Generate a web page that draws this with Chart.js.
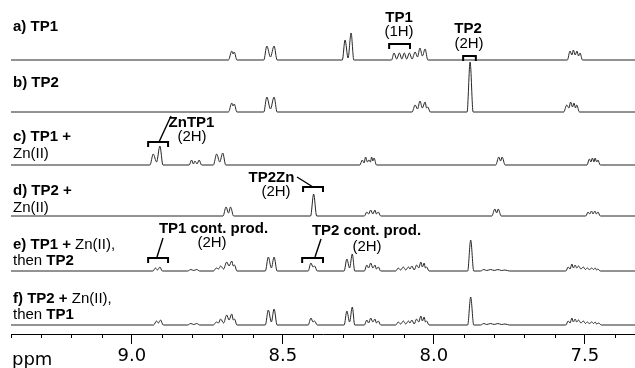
<!DOCTYPE html>
<html>
<head>
<meta charset="utf-8">
<script src="https://cdn.jsdelivr.net/npm/chart.js@4/dist/chart.umd.min.js"></script>
<style>
  html, body { margin: 0; padding: 0; background: #fff; }
  canvas { display: block; }
</style>
</head>
<body>
<canvas id="nmr" width="635" height="368"></canvas>
<script>
// 1H NMR traces, aromatic region. Each trace is a list of [shift (ppm), intensity] vertices.
const specTP1 = [
  [9.40,0],
  [8.680,0],[8.669,9],[8.665,6],[8.661,8],[8.652,0],
  [8.563,0],[8.553,14],[8.541,3],[8.529,14],[8.519,0],
  [8.303,0],[8.294,20],[8.284,2],[8.274,27],[8.265,0],
  [8.140,0],[8.132,7],[8.123,1],[8.114,7],[8.106,1],[8.098,7],[8.090,1],[8.081,7],[8.072,1],
  [8.062,8],[8.054,3],[8.046,12],[8.038,4],[8.029,11],[8.020,0],
  [7.558,0],[7.549,9],[7.543,5],[7.538,10],[7.532,5],[7.526,9],[7.521,4],[7.516,7],[7.508,0],
  [7.334,0]
];
const specTP2 = [
  [9.40,0],
  [8.680,0],[8.669,9],[8.665,6],[8.661,8],[8.652,0],
  [8.563,0],[8.553,15],[8.541,3],[8.529,15],[8.519,0],
  [8.072,0],[8.062,7],[8.054,3],[8.046,11],[8.038,4],[8.029,10],[8.024,4],[8.020,5],[8.012,0],
  [7.890,0],[7.880,50],[7.870,0],
  [7.570,0],[7.560,7],[7.553,4],[7.547,10],[7.541,5],[7.536,9],[7.531,4],[7.527,7],[7.518,0],
  [7.334,0]
];
const specTP1Zn = [
  [9.40,0],
  [8.940,0],[8.929,11],[8.918,3],[8.907,19],[8.897,0],
  [8.810,0],[8.802,5],[8.796,1],[8.791,4],[8.784,1],[8.777,5],[8.769,0],
  [8.730,0],[8.719,11],[8.709,3],[8.699,12],[8.689,0],
  [8.245,0],[8.237,5],[8.231,2],[8.226,8],[8.220,3],[8.215,5],[8.210,3],[8.206,8],[8.202,4],[8.198,7],[8.190,0],
  [7.795,0],[7.785,8],[7.779,4],[7.774,8],[7.764,0],
  [7.493,0],[7.485,6],[7.480,3],[7.475,7],[7.470,3],[7.466,7],[7.461,3],[7.457,5],[7.449,0],
  [7.334,0]
];
const specTP2Zn = [
  [9.40,0],
  [8.698,0],[8.688,9],[8.680,3],[8.673,9],[8.663,0],
  [8.408,0],[8.398,22],[8.388,0],
  [8.230,0],[8.222,4],[8.216,2],[8.209,6],[8.202,2],[8.195,6],[8.190,2],[8.184,4],[8.176,0],
  [7.808,0],[7.798,7],[7.792,3],[7.787,7],[7.777,0],
  [7.497,0],[7.489,4],[7.484,2],[7.478,5],[7.473,2],[7.467,5],[7.462,2],[7.457,4],[7.449,0],
  [7.334,0]
];
const specTP1ZnThenTP2 = [
  [9.40,0],
  [8.930,0],[8.922,3],[8.915,1],[8.907,4],[8.899,0],
  [8.815,0],[8.805,1.5],[8.795,0.5],[8.785,1.5],[8.775,0],
  [8.730,0],[8.720,3],[8.713,2],[8.706,5],[8.696,2],[8.686,9],[8.678,5],[8.669,10],[8.664,5],[8.660,6],[8.652,0],
  [8.558,0],[8.548,14],[8.538,3],[8.529,14],[8.519,0],
  [8.416,0],[8.407,8],[8.400,4],[8.395,5],[8.386,0],
  [8.297,0],[8.288,12],[8.279,3],[8.270,17],[8.262,0],
  [8.230,0],[8.222,6],[8.216,3],[8.209,8],[8.202,3],[8.195,6],[8.190,2],[8.184,4],[8.176,0],
  [8.126,0],[8.118,3],[8.110,1],[8.101,4],[8.093,1],[8.084,4],[8.079,2],[8.073,5],[8.065,1],
  [8.057,6],[8.050,3],[8.043,9],[8.038,4],[8.032,8],[8.028,3],[8.024,4],[8.016,0],
  [7.888,0],[7.878,31],[7.868,0],
  [7.845,0],[7.835,1.5],[7.825,0.5],[7.812,1.5],[7.800,0.5],[7.788,1.5],[7.776,0.5],[7.764,1],[7.750,0],
  [7.563,0],[7.555,4],[7.549,2],[7.543,7],[7.538,3],[7.532,6],[7.527,3],[7.521,5],[7.513,2],[7.505,4],
  [7.498,1.5],[7.492,3],[7.485,1.5],[7.477,3],[7.471,1.5],[7.466,3],[7.461,1],[7.457,2],[7.449,0],
  [7.334,0]
];
const specTP2ZnThenTP1 = [
  [9.40,0],
  [8.928,0],[8.918,4],[8.912,2],[8.905,5],[8.896,0],
  [8.815,0],[8.805,1.5],[8.795,0.5],[8.785,1.5],[8.775,0],
  [8.730,0],[8.720,3],[8.713,2],[8.706,6],[8.696,2],[8.686,10],[8.678,5],[8.669,11],[8.664,5],[8.660,6],[8.652,0],
  [8.558,0],[8.548,15],[8.538,3],[8.529,16],[8.519,0],
  [8.416,0],[8.407,7],[8.400,3],[8.395,4],[8.386,0],
  [8.297,0],[8.288,14],[8.279,3],[8.270,18],[8.262,0],
  [8.230,0],[8.222,5],[8.216,2],[8.209,7],[8.202,3],[8.195,6],[8.190,2],[8.184,4],[8.176,0],
  [8.126,0],[8.118,3],[8.110,1],[8.101,4],[8.093,1],[8.084,4],[8.079,2],[8.073,5],[8.065,1],
  [8.057,6],[8.050,3],[8.043,9],[8.038,4],[8.032,8],[8.028,3],[8.024,4],[8.016,0],
  [7.888,0],[7.878,28],[7.868,0],
  [7.845,0],[7.835,1.5],[7.825,0.5],[7.812,1.5],[7.800,0.5],[7.788,1.5],[7.776,0.5],[7.764,1],[7.750,0],
  [7.563,0],[7.555,4],[7.549,2],[7.543,7],[7.538,3],[7.532,6],[7.527,3],[7.521,5],[7.513,2],[7.505,4],
  [7.498,1.5],[7.492,3],[7.485,1.5],[7.477,3],[7.471,1.5],[7.466,3],[7.461,1],[7.455,2],[7.445,0],
  [7.334,0]
];

const traces = [specTP1, specTP2, specTP1Zn, specTP2Zn, specTP1ZnThenTP2, specTP2ZnThenTP1];
const majorTicks = [9.0, 8.5, 8.0, 7.5];
const axisUnit = 'ppm';

// Trace labels: runs of [text, bold]
const traceLabels = [
  [[['a) TP1', true]]],
  [[['b) TP2', true]]],
  [[['c) TP1 +', true]], [['Zn(II)', false]]],
  [[['d) TP2 +', true]], [['Zn(II)', false]]],
  [[['e) TP1 + ', true], ['Zn(II),', false]], [['then ', false], ['TP2', true]]],
  [[['f) TP2 + ', true], ['Zn(II),', false]], [['then ', false], ['TP1', true]]]
];

// Signal assignments: title, proton count, bracketed shift range (ppm)
const assignTitles = ['TP1', 'TP2', 'ZnTP1', 'TP2Zn', 'TP1 cont. prod.', 'TP2 cont. prod.'];
const assignCounts = ['(1H)', '(2H)', '(2H)', '(2H)', '(2H)', '(2H)'];
const assignRanges = [[8.148, 8.079], [7.903, 7.861], [8.946, 8.880], [8.433, 8.367], [8.946, 8.880], [8.436, 8.367]];

// ---- layout (canvas pixels / y-scale units) ----
const AXIS_Y = 334;                                  // bottom of plot area
const traceBaseline = [274, 222, 169, 118, 63, 9];   // y-scale units above the axis
const labelLineY = [[31], [87], [141, 158], [195, 212], [249, 265], [303, 319]];
const assignLayout = [
  { title: [399, 22],   count: [399, 36],  bracketY: 44 },
  { title: [468, 33],   count: [469, 48],  bracketY: 56 },
  { title: [191.5, 127], count: [192, 141], bracketY: 142, leader: [159, 142, 171, 116] },
  { title: [271.5, 182], count: [276, 196], bracketY: 187, leader: [297, 177, 313, 187] },
  { title: [213.5, 233], count: [212, 247], bracketY: 258, leader: [157, 257, 163, 238] },
  { title: [366.5, 235], count: [367, 251], bracketY: 258, leader: [315, 257, 321, 239] }
];
const SANS = '"Liberation Sans", Arial, sans-serif';
const AXIS_FONT = '"DejaVu Sans", Verdana, sans-serif';

const datasets = traces.map((tr, i) => ({
  data: tr.map(p => ({ x: p[0], y: traceBaseline[i] + p[1] })),
  borderColor: '#262626',
  borderWidth: 1,
  pointRadius: 0,
  cubicInterpolationMode: 'monotone',
  fill: false
}));

const annotate = {
  id: 'annotate',
  afterDatasetsDraw(chart) {
    const ctx = chart.ctx;
    const xs = chart.scales.x;
    const area = chart.chartArea;
    ctx.save();
    ctx.fillStyle = '#000';
    ctx.strokeStyle = '#000';

    // minor ticks every 0.1 ppm
    ctx.lineWidth = 1;
    for (let k = 74; k <= 94; k++) {
      const v = k / 10;
      if (k % 5 === 0) continue;
      const px = Math.round(xs.getPixelForValue(v)) + 0.5;
      ctx.beginPath();
      ctx.moveTo(px, area.bottom);
      ctx.lineTo(px, area.bottom + 4);
      ctx.stroke();
    }

    // unit label
    ctx.font = '18px ' + AXIS_FONT;
    ctx.textAlign = 'left';
    ctx.textBaseline = 'alphabetic';
    ctx.fillText(axisUnit, 12, 365);

    // trace labels
    traceLabels.forEach((lines, i) => {
      lines.forEach((runs, j) => {
        let x = 13;
        const y = labelLineY[i][j];
        runs.forEach(([txt, bold]) => {
          ctx.font = (bold ? 'bold ' : '') + '15px ' + SANS;
          ctx.fillText(txt, x, y);
          x += ctx.measureText(txt).width;
        });
      });
    });

    // assignments
    ctx.textAlign = 'center';
    assignTitles.forEach((t, i) => {
      const L = assignLayout[i];
      ctx.font = 'bold 15px ' + SANS;
      ctx.fillText(t, L.title[0], L.title[1]);
      ctx.font = '15px ' + SANS;
      ctx.fillText(assignCounts[i], L.count[0], L.count[1]);
      const x1 = xs.getPixelForValue(assignRanges[i][0]);
      const x2 = xs.getPixelForValue(assignRanges[i][1]);
      ctx.lineWidth = 2;
      ctx.beginPath();
      ctx.moveTo(x1, L.bracketY + 5);
      ctx.lineTo(x1, L.bracketY);
      ctx.lineTo(x2, L.bracketY);
      ctx.lineTo(x2, L.bracketY + 5);
      ctx.stroke();
      if (L.leader) {
        ctx.lineWidth = 1.4;
        ctx.beginPath();
        ctx.moveTo(L.leader[0], L.leader[1]);
        ctx.lineTo(L.leader[2], L.leader[3]);
        ctx.stroke();
      }
    });
    ctx.restore();
  }
};

new Chart(document.getElementById('nmr'), {
  type: 'line',
  data: { datasets },
  options: {
    responsive: false,
    animation: false,
    devicePixelRatio: 1,
    layout: { padding: { left: 11, right: 0, top: 0, bottom: 0 } },
    plugins: { legend: { display: false }, tooltip: { enabled: false } },
    scales: {
      x: {
        type: 'linear',
        reverse: true,
        min: 7.334,
        max: 9.4,
        afterBuildTicks: s => { s.ticks = majorTicks.map(v => ({ value: v })); },
        afterFit: s => { s.height = 368 - AXIS_Y; },
        border: { display: true, color: '#000', width: 1 },
        grid: { drawOnChartArea: false, drawTicks: true, tickLength: 10, color: '#000' },
        ticks: {
          color: '#000',
          padding: 2,
          maxRotation: 0,
          autoSkip: false,
          font: { family: AXIS_FONT, size: 18 },
          callback: v => v.toFixed(1)
        }
      },
      y: { display: false, min: 0, max: AXIS_Y }
    }
  },
  plugins: [annotate]
});
</script>
</body>
</html>
